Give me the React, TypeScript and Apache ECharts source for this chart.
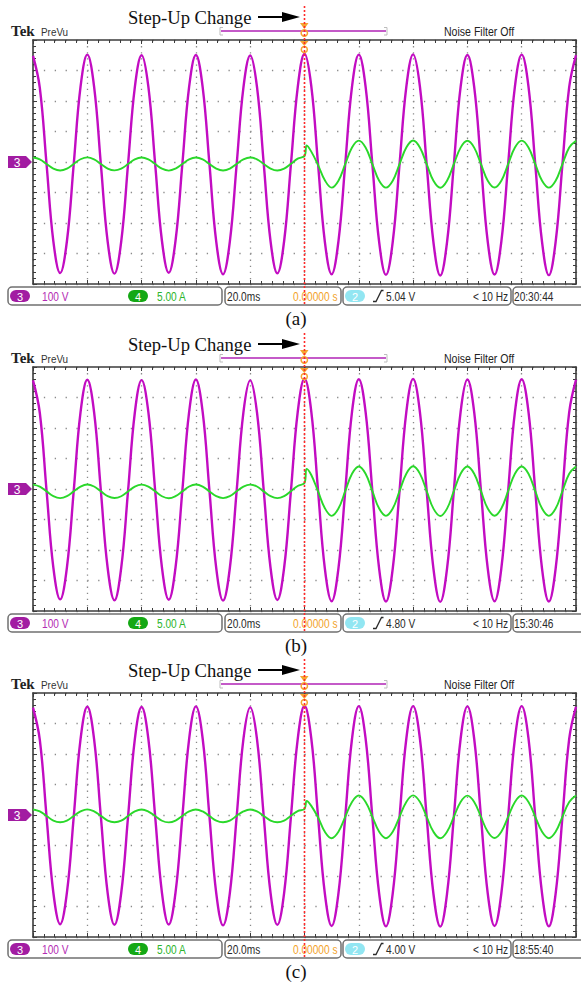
import React, { useEffect, useRef } from "react";
import * as echarts from "echarts";

// ---------- data ----------
const TIME_MS = [
  0, 2.5, 5, 7.5, 10, 12.5, 15, 17.5, 20, 22.5, 25, 27.5, 30, 32.5, 35, 37.5, 40, 42.5, 45, 47.5,
  50, 52.5, 55, 57.5, 60, 62.5, 65, 67.5, 70, 72.5, 75, 77.5, 80, 82.5, 85, 87.5, 90, 92.5, 95, 97.5,
  100, 102.5, 105, 107.5, 110, 112.5, 115, 117.5, 120, 122.5, 125, 127.5, 130, 132.5, 135, 137.5,
  140, 142.5, 145, 147.5, 150, 152.5, 155, 157.5, 160, 162.5, 165, 167.5, 170, 172.5, 175, 177.5,
  180, 182.5, 185, 187.5, 190, 192.5, 195, 197.5, 200,
];
// current trace has an extra sample right after the step at 100 ms
const CURRENT_TIME_MS = [...TIME_MS.slice(0, 41), 100.8, ...TIME_MS.slice(41)];

const VOLT_A = [
  348, 244, -8, -260, -364, -259, -7, 246,
  352, 247, -8, -261, -366, -260, -8, 245,
  350, 246, -7, -259, -363, -258, -8, 246,
  351, 245, -8, -262, -368, -261, -9, 244,
  349, 246, -7, -260, -365, -259, -8, 245,
  355, 249, -8, -262, -368, -260, -7, 247,
  352, 247, -8, -263, -370, -262, -8, 246,
  353, 248, -8, -264, -372, -263, -9, 246,
  351, 246, -7, -262, -369, -261, -8, 247,
  352, 247, -8, -263, -371, -262, -8, 246,
  350,
];
const VOLT_B = [
  356, 250, -6, -258, -362, -257, -6, 251,
  358, 252, -6, -259, -365, -258, -7, 250,
  357, 251, -5, -258, -363, -257, -6, 252,
  359, 252, -6, -260, -366, -259, -7, 251,
  356, 251, -6, -259, -364, -258, -6, 252,
  362, 254, -6, -261, -368, -260, -6, 253,
  360, 253, -7, -262, -369, -261, -7, 252,
  361, 253, -6, -262, -370, -261, -7, 253,
  359, 252, -6, -261, -368, -260, -6, 252,
  360, 253, -6, -262, -369, -261, -7, 252,
  358,
];
const VOLT_C = [
  352, 247, -6, -255, -358, -254, -6, 248,
  355, 249, -6, -256, -360, -255, -7, 248,
  354, 249, -5, -255, -359, -254, -6, 249,
  356, 250, -6, -257, -362, -256, -7, 249,
  353, 249, -6, -256, -360, -255, -6, 249,
  358, 251, -6, -258, -364, -257, -6, 250,
  357, 251, -7, -258, -365, -257, -7, 250,
  357, 251, -6, -259, -366, -258, -7, 250,
  356, 250, -6, -258, -364, -257, -6, 250,
  357, 251, -6, -258, -365, -258, -7, 250,
  355,
];

const CUR_A = [
  0.74, 0.43, -0.33, -1.09, -1.4, -1.09, -0.33, 0.45,
  0.76, 0.44, -0.32, -1.08, -1.38, -1.1, -0.34, 0.43,
  0.73, 0.42, -0.33, -1.1, -1.41, -1.08, -0.33, 0.44,
  0.75, 0.43, -0.34, -1.09, -1.39, -1.09, -0.32, 0.43,
  0.74, 0.44, -0.33, -1.08, -1.4, -1.09, -0.3, 0.55,
  1.0, 2.7,
  1.7, -0.5, -3.0, -4.2, -3.07, -0.35, 2.37,
  3.5, 2.37, -0.35, -3.07, -4.2, -3.07, -0.35, 2.37,
  3.52, 2.38, -0.35, -3.08, -4.22, -3.07, -0.35, 2.36,
  3.48, 2.36, -0.36, -3.07, -4.18, -3.06, -0.35, 2.37,
  3.5, 2.37, -0.35, -3.07, -4.2, -3.07, -0.35, 2.37,
  3.5,
];
const CUR_B = [
  0.72, 0.4, -0.39, -1.18, -1.5, -1.18, -0.39, 0.4,
  0.74, 0.41, -0.38, -1.17, -1.48, -1.19, -0.4, 0.4,
  0.71, 0.39, -0.39, -1.19, -1.52, -1.17, -0.39, 0.41,
  0.73, 0.4, -0.4, -1.18, -1.49, -1.18, -0.38, 0.4,
  0.72, 0.41, -0.39, -1.17, -1.5, -1.18, -0.36, 0.5,
  1.0, 3.3,
  2.3, -0.4, -3.15, -4.4, -3.21, -0.35, 2.51,
  3.7, 2.51, -0.35, -3.21, -4.4, -3.21, -0.35, 2.51,
  3.72, 2.52, -0.35, -3.22, -4.42, -3.21, -0.35, 2.5,
  3.68, 2.5, -0.36, -3.21, -4.38, -3.2, -0.35, 2.51,
  3.7, 2.51, -0.35, -3.21, -4.4, -3.21, -0.35, 2.51,
  3.7,
];
const CUR_C = [
  0.9, 0.58, -0.15, -0.93, -1.2, -0.93, -0.15, 0.58,
  0.92, 0.59, -0.14, -0.92, -1.18, -0.94, -0.16, 0.58,
  0.89, 0.57, -0.15, -0.94, -1.21, -0.92, -0.15, 0.59,
  0.91, 0.58, -0.16, -0.93, -1.19, -0.93, -0.14, 0.58,
  0.9, 0.59, -0.15, -0.92, -1.2, -0.93, -0.12, 0.65,
  1.0, 2.3,
  1.5, -0.4, -2.75, -3.8, -2.75, -0.3, 2.15,
  3.2, 2.15, -0.3, -2.75, -3.8, -2.75, -0.3, 2.15,
  3.22, 2.16, -0.3, -2.76, -3.82, -2.75, -0.3, 2.14,
  3.18, 2.14, -0.31, -2.75, -3.78, -2.74, -0.3, 2.15,
  3.2, 2.15, -0.3, -2.75, -3.8, -2.75, -0.3, 2.15,
  3.2,
];

const VOLTAGES = [VOLT_A, VOLT_B, VOLT_C];
const CURRENTS = [CUR_A, CUR_B, CUR_C];
const CAPTIONS = ["(a)", "(b)", "(c)"];
const TRIGGER_LEVELS = ["5.04 V", "4.80 V", "4.00 V"];
const CLOCKS = ["20:30:44", "15:30:46", "18:55:40"];
const CH3_SCALE = "100 V";
const CH4_SCALE = "5.00 A";
const TIME_SCALE = "20.0ms";
const TRIGGER_POS = "0.00000 s";

// ---------- styling ----------
const W = 581;
const H = 983;
const PANEL_OFFSETS = [0, 327, 653];
const FRAME = "#3c3c3c";
const GRIDC = "#8a8a8a";
const MAG = "#c20cc2";
const GRN = "#2ad82a";
const SERIF = "'Liberation Serif', 'DejaVu Serif', serif";
const SANS = "'Liberation Sans', Arial, sans-serif";

function txt(x: number, y: number, text: string, size: number, color: string, family: string, extra: any = {}) {
  const align = extra.align || "left";
  return {
    type: "text",
    x,
    y,
    scaleX: extra.scaleX || 1,
    z: 60,
    style: {
      text,
      fontSize: size,
      fontFamily: family,
      fontWeight: extra.weight || "normal",
      fill: color,
      textAlign: align,
      align,
      textVerticalAlign: "middle",
      verticalAlign: "middle",
    },
  };
}

function panelGraphics(p: number) {
  const o = PANEL_OFFSETS[p];
  const sy = o + 296; // status bar centre
  const els: any[] = [];
  // header
  els.push(txt(128, o + 17, "Step-Up Change", 18.6, "#111", SERIF));
  els.push({ type: "line", z: 60, shape: { x1: 258, y1: o + 17, x2: 288, y2: o + 17 }, style: { stroke: "#000", lineWidth: 2 } });
  els.push({ type: "polygon", z: 60, shape: { points: [[282, o + 12], [300, o + 17], [282, o + 22]] }, style: { fill: "#000" } });
  els.push(txt(11, o + 31, "Tek", 15, "#222", SERIF, { weight: "bold" }));
  els.push(txt(41, o + 32, "PreVu", 11, "#333", SANS, { scaleX: 0.9 }));
  els.push(txt(444, o + 32, "Noise Filter Off", 12, "#222", SANS, { scaleX: 0.88 }));
  // record bracket
  els.push({ type: "line", z: 55, shape: { x1: 221, y1: o + 31, x2: 386, y2: o + 31 }, style: { stroke: "#c45ac8", lineWidth: 2 } });
  els.push({ type: "polyline", z: 55, shape: { points: [[223, o + 27.5], [220, o + 27.5], [220, o + 35], [223, o + 35]] }, style: { stroke: "#bdbdbd", lineWidth: 1, fill: null } });
  els.push({ type: "polyline", z: 55, shape: { points: [[384, o + 27.5], [387, o + 27.5], [387, o + 35], [384, o + 35]] }, style: { stroke: "#bdbdbd", lineWidth: 1, fill: null } });
  // trigger markers
  els.push({ type: "polygon", z: 58, shape: { points: [[300, o + 23], [308.5, o + 23], [304.3, o + 29]] }, style: { fill: "#f5a530" } });
  els.push({ type: "circle", z: 58, shape: { cx: 304.3, cy: o + 33, r: 3.2 }, style: { stroke: "#f5a530", lineWidth: 1.5, fill: "none" } });
  els.push({ type: "polygon", z: 58, shape: { points: [[300, o + 41], [308.5, o + 41], [304.3, o + 46]] }, style: { fill: "#f5a530" } });
  els.push({ type: "circle", z: 58, shape: { cx: 304.3, cy: o + 49.5, r: 3 }, style: { stroke: "#f5a530", lineWidth: 1.5, fill: "none" } });
  // ch3 ground marker
  const my = o + 162;
  els.push({ type: "polygon", z: 58, shape: { points: [[8, my - 6], [26, my - 6], [32, my], [26, my + 6], [8, my + 6]] }, style: { fill: "#a21ca2" } });
  els.push(txt(17, my + 0.5, "3", 12, "#fff", SANS, { align: "center" }));
  // status boxes
  const boxes = [[8, 222], [225, 341], [343, 511], [513, 600]];
  boxes.forEach(([a, b]) => {
    els.push({ type: "rect", z: 52, shape: { x: a, y: o + 287, width: b - a, height: 18, r: 4 }, style: { fill: "#fff", stroke: "#707070", lineWidth: 1.5 } });
  });
  const pill = (x: number, color: string, label: string) => {
    els.push({ type: "rect", z: 56, shape: { x, y: sy - 6, width: 20, height: 12, r: 6 }, style: { fill: color } });
    els.push(txt(x + 10, sy + 0.5, label, 11, "#fff", SANS, { align: "center" }));
  };
  pill(10, "#a21ca2", "3");
  els.push(txt(42, sy, CH3_SCALE, 13, "#b42cb4", SANS, { scaleX: 0.78 }));
  pill(128, "#14a814", "4");
  els.push(txt(157, sy, CH4_SCALE, 13, "#2cb42c", SANS, { scaleX: 0.78 }));
  els.push(txt(227, sy, TIME_SCALE, 13, "#2a2a2a", SANS, { scaleX: 0.78 }));
  els.push(txt(293, sy, TRIGGER_POS, 13, "#f2a22a", SANS, { scaleX: 0.78 }));
  pill(345, "#92e6f2", "2");
  els.push({ type: "polyline", z: 60, shape: { points: [[373, sy + 5.5], [376, sy + 5.5], [381.5, sy - 5.5], [383.5, sy - 5.5]] }, style: { stroke: "#2a2a2a", lineWidth: 1.3, fill: null } });
  els.push(txt(386, sy, TRIGGER_LEVELS[p], 13, "#2a2a2a", SANS, { scaleX: 0.78 }));
  els.push(txt(473, sy, "< 10 Hz", 13, "#2a2a2a", SANS, { scaleX: 0.78 }));
  els.push(txt(514, sy, CLOCKS[p], 13, "#2a2a2a", SANS, { scaleX: 0.78 }));
  // red dotted step line
  els.push({ type: "line", z: 70, shape: { x1: 304.5, y1: o + 6, x2: 304.5, y2: o + 305 }, style: { stroke: "#ff2a2a", lineWidth: 1.6, lineDash: [2, 2] } });
  // caption
  els.push(txt(296, o + 318, CAPTIONS[p], 19, "#111", SERIF, { align: "center" }));
  return els;
}

function buildOption() {
  const grid: any[] = [];
  const xAxis: any[] = [];
  const yAxis: any[] = [];
  const series: any[] = [];
  let graphics: any[] = [];
  const frameLine = { show: true, onZero: false, lineStyle: { color: FRAME, width: 1.6 } };
  const tick = { show: true, inside: true, length: 4, lineStyle: { color: FRAME, width: 1 } };
  const minor = { show: true, splitNumber: 5, length: 3, lineStyle: { color: FRAME, width: 1 } };
  for (let p = 0; p < 3; p++) {
    const o = PANEL_OFFSETS[p];
    grid.push({ left: 33, top: 40 + o, width: 543, height: 244, outerBoundsMode: "none", show: false });
    xAxis.push({
      gridIndex: p, type: "value", min: 0, max: 200, interval: 20, position: "bottom",
      axisLine: frameLine, axisTick: tick, minorTick: minor, axisLabel: { show: false },
      splitLine: { show: true, lineStyle: { color: GRIDC, width: 1.3, type: [1.3, 4.8] } },
      minorSplitLine: { show: false },
    });
    xAxis.push({
      gridIndex: p, type: "value", min: 0, max: 200, interval: 20, position: "top",
      axisLine: frameLine, axisTick: tick, minorTick: minor, axisLabel: { show: false },
      splitLine: { show: false },
    });
    yAxis.push({
      gridIndex: p, type: "value", min: -400, max: 400, interval: 100, position: "left",
      axisLine: frameLine, axisTick: tick, minorTick: minor, axisLabel: { show: false },
      splitLine: { show: true, lineStyle: { color: GRIDC, width: 1.3, type: [1.3, 9.56] } },
    });
    yAxis.push({
      gridIndex: p, type: "value", min: -4, max: 4, interval: 1, position: "right",
      axisLine: frameLine, axisTick: tick, minorTick: minor, axisLabel: { show: false },
      splitLine: { show: false },
    });
    yAxis.push({ gridIndex: p, type: "value", min: -20, max: 20, show: false, splitLine: { show: false } });
    series.push({
      type: "line", xAxisIndex: p * 2, yAxisIndex: p * 3, silent: true, symbol: "none", smooth: 0.4,
      data: TIME_MS.map((t, i) => [t, VOLTAGES[p][i]]),
      lineStyle: { color: MAG, width: 2.4 }, z: 3,
    });
    series.push({
      type: "line", xAxisIndex: p * 2, yAxisIndex: p * 3 + 2, silent: true, symbol: "none", smooth: 0.4,
      data: CURRENT_TIME_MS.map((t, i) => [t, CURRENTS[p][i]]),
      lineStyle: { color: GRN, width: 1.9 }, z: 4,
    });
    graphics = graphics.concat(panelGraphics(p));
  }
  return {
    animation: false,
    backgroundColor: "#fff",
    grid, xAxis, yAxis, series,
    graphic: { elements: graphics },
  };
}

export default function App() {
  const ref = useRef<HTMLDivElement>(null);
  useEffect(() => {
    document.body.style.margin = "0";
    const chart = echarts.init(ref.current!, null, { renderer: "svg" });
    chart.setOption(buildOption() as any);
    return () => chart.dispose();
  }, []);
  return <div ref={ref} style={{ width: W, height: H, background: "#fff" }} />;
}
